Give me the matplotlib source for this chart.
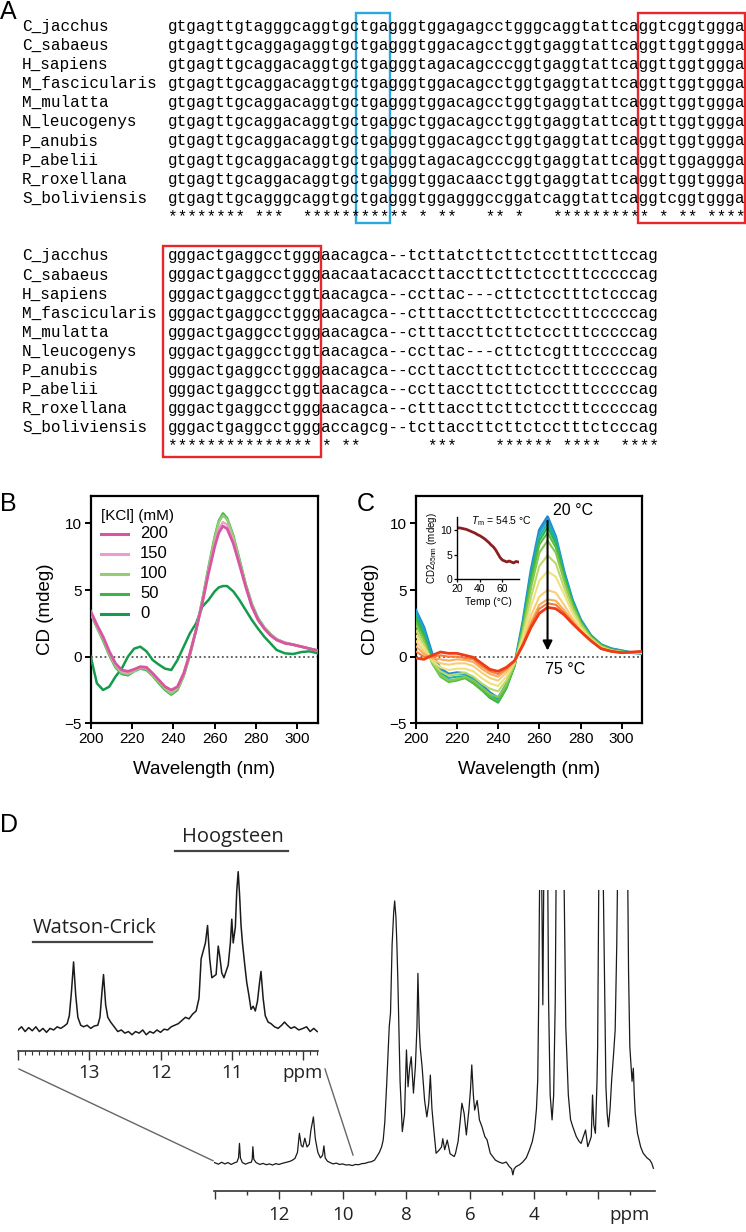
import numpy as np
import matplotlib.pyplot as plt
from matplotlib.patches import Rectangle

plt.rcParams['font.family'] = ['Liberation Sans', 'DejaVu Sans']
plt.rcParams['mathtext.fontset'] = 'custom'
plt.rcParams['mathtext.rm'] = 'Liberation Sans'
plt.rcParams['mathtext.it'] = 'Liberation Sans:italic'

W, H = 746, 1232

# ---------------- panel A: alignment ----------------
species = ['C_jacchus', 'C_sabaeus', 'H_sapiens', 'M_fascicularis', 'M_mulatta',
           'N_leucogenys', 'P_anubis', 'P_abelii', 'R_roxellana', 'S_boliviensis']
block1 = ['gtgagttgtagggcaggtgctgagggtggagagcctgggcaggtattcaggtcggtggga',
          'gtgagttgcaggagaggtgctgagggtggacagcctggtgaggtattcaggttggtggga',
          'gtgagttgcaggacaggtgctgagggtagacagcccggtgaggtattcaggttggtggga',
          'gtgagttgcaggacaggtgctgagggtggacagcctggtgaggtattcaggttggtggga',
          'gtgagttgcaggacaggtgctgagggtggacagcctggtgaggtattcaggttggtggga',
          'gtgagttgcaggacaggtgctgaggctggacagcctggtgaggtattcagtttggtggga',
          'gtgagttgcaggacaggtgctgagggtggacagcctggtgaggtattcaggttggtggga',
          'gtgagttgcaggacaggtgctgagggtagacagcccggtgaggtattcaggttggaggga',
          'gtgagttgcaggacaggtgctgagggtggacaacctggtgaggtattcaggttggtggga',
          'gtgagttgcagggcaggtgctgagggtggagggccggatcaggtattcaggtcggtggga']
stars1 = '******** ***  *********** * **   ** *   ********** * ** ****'
block2 = ['gggactgaggcctgggaacagca--tcttatcttcttctcctttcttccag',
          'gggactgaggcctgggaacaatacaccttaccttcttctcctttcccccag',
          'gggactgaggcctggtaacagca--ccttac---cttctcctttctcccag',
          'gggactgaggcctgggaacagca--ctttaccttcttctcctttcccccag',
          'gggactgaggcctgggaacagca--ctttaccttcttctcctttcccccag',
          'gggactgaggcctggtaacagca--ccttac---cttctcgtttcccccag',
          'gggactgaggcctgggaacagca--ccttaccttcttctcctttcccccag',
          'gggactgaggcctggtaacagca--ccttaccttcttctcctttcccccag',
          'gggactgaggcctgggaacagca--ctttaccttcttctcctttcccccag',
          'gggactgaggcctgggaccagcg--tcttaccttcttctcctttctcccag']
stars2 = '*************** * **       ***    ****** ****  ****'

# ---------------- panel B: CD vs [KCl] ----------------
wl_b = [200, 203, 206, 209, 212, 215, 218, 221, 224, 227, 230, 233, 236, 239, 242, 245,
        248, 251, 254, 257, 260, 262, 264, 266, 269, 272, 275, 278, 281, 284, 287, 290,
        294, 298, 302, 306, 310]
kcl_0 = [0.0, -2.0, -2.5, -2.25, -1.5, -0.9, 0.0, 0.6, 0.75, 0.4, -0.25, -0.6, -0.9, -1.0,
         -0.25, 0.75, 1.75, 2.5, 3.75, 4.25, 4.9, 5.2, 5.3, 5.3, 4.9, 4.25, 3.5, 2.75, 2.1,
         1.5, 1.0, 0.5, 0.25, 0.2, 0.35, 0.4, 0.25]
kcl_50 = [3.2, 2.2, 1.2, 0.1, -0.8, -1.3, -1.4, -1.1, -0.9, -1.0, -1.45, -2.0, -2.5, -2.85,
          -2.5, -1.45, 0.1, 2.0, 4.25, 6.7, 9.0, 10.2, 10.75, 10.4, 9.1, 7.3, 5.45, 3.95, 2.9,
          2.2, 1.7, 1.3, 1.05, 0.9, 0.75, 0.6, 0.45]
kcl_100 = [3.3, 2.2, 1.3, 0.2, -0.7, -1.2, -1.3, -1.1, -0.85, -0.9, -1.4, -1.9, -2.4, -2.75,
           -2.4, -1.4, 0.15, 2.0, 4.2, 6.6, 8.9, 10.1, 10.6, 10.3, 9.0, 7.2, 5.4, 3.9, 2.85,
           2.2, 1.7, 1.3, 1.05, 0.9, 0.75, 0.6, 0.45]
kcl_150 = [3.3, 2.3, 1.4, 0.3, -0.6, -1.1, -1.2, -1.0, -0.8, -0.85, -1.3, -1.8, -2.3, -2.6,
           -2.3, -1.3, 0.2, 2.0, 4.1, 6.4, 8.5, 9.6, 10.1, 9.9, 8.7, 7.0, 5.3, 3.8, 2.8,
           2.15, 1.65, 1.3, 1.05, 0.9, 0.75, 0.6, 0.45]
kcl_200 = [3.4, 2.4, 1.5, 0.4, -0.5, -1.0, -1.1, -0.95, -0.75, -0.8, -1.25, -1.75, -2.25,
           -2.5, -2.25, -1.25, 0.25, 2.0, 4.0, 6.25, 8.25, 9.3, 9.8, 9.6, 8.5, 6.9, 5.25,
           3.75, 2.75, 2.1, 1.6, 1.25, 1.0, 0.9, 0.75, 0.6, 0.45]
kcl_labels = ['200', '150', '100', '50', '0']
kcl_colors = ['#D8559F', '#EE9BCF', '#93CE76', '#3DB34A', '#169A4C']

# ---------------- panel C: CD vs temperature ----------------
wl_c = [200, 204, 208, 212, 216, 220, 224, 228, 232, 236, 240, 244, 248, 252, 256, 260,
        264, 268, 272, 276, 280, 285, 290, 295, 300, 305, 310]
t20 = [3.5, 2.2, 0.2, -0.9, -1.3, -1.2, -1.25, -1.6, -2.1, -2.7, -3.1, -2.1, -0.6, 2.6, 6.5, 9.5, 10.5, 9.0, 6.4, 4.3, 2.8, 1.6, 0.9, 0.6, 0.45, 0.3, 0.25]
t25 = [3.4, 2.0, 0.0, -1.0, -1.4, -1.3, -1.35, -1.7, -2.2, -2.8, -3.2, -2.2, -0.65, 2.5, 6.3, 9.3, 10.3, 8.9, 6.3, 4.25, 2.75, 1.6, 0.9, 0.6, 0.45, 0.3, 0.25]
t30 = [3.2, 1.8, -0.2, -1.2, -1.6, -1.5, -1.5, -1.9, -2.4, -3.0, -3.4, -2.3, -0.7, 2.4, 6.1, 9.0, 10.0, 8.7, 6.2, 4.2, 2.7, 1.55, 0.9, 0.55, 0.4, 0.3, 0.25]
t35 = [3.0, 1.6, -0.4, -1.4, -1.8, -1.7, -1.6, -2.0, -2.5, -3.1, -3.45, -2.4, -0.7, 2.3, 5.9, 8.7, 9.7, 8.5, 6.1, 4.1, 2.7, 1.55, 0.9, 0.55, 0.4, 0.3, 0.25]
t40 = [2.7, 1.4, -0.5, -1.5, -1.9, -1.8, -1.6, -2.0, -2.5, -3.0, -3.35, -2.3, -0.65, 2.2, 5.6, 8.4, 9.3, 8.2, 5.9, 4.0, 2.6, 1.5, 0.85, 0.5, 0.4, 0.3, 0.3]
t45 = [2.4, 1.2, -0.5, -1.4, -1.8, -1.7, -1.5, -1.8, -2.3, -2.8, -3.05, -2.1, -0.6, 2.0, 5.2, 7.8, 8.7, 7.8, 5.7, 3.85, 2.55, 1.45, 0.8, 0.5, 0.35, 0.3, 0.3]
t50 = [2.0, 0.9, -0.4, -1.1, -1.4, -1.3, -1.2, -1.5, -2.0, -2.4, -2.6, -1.8, -0.5, 1.7, 4.5, 6.8, 7.6, 7.0, 5.2, 3.6, 2.4, 1.4, 0.75, 0.45, 0.35, 0.3, 0.3]
t55 = [1.6, 0.7, -0.3, -0.8, -1.0, -0.9, -0.9, -1.1, -1.6, -2.0, -2.2, -1.5, -0.45, 1.4, 3.8, 5.7, 6.4, 6.0, 4.7, 3.3, 2.2, 1.3, 0.7, 0.45, 0.35, 0.3, 0.3]
t60 = [1.2, 0.4, -0.2, -0.5, -0.6, -0.5, -0.5, -0.7, -1.2, -1.6, -1.8, -1.2, -0.4, 1.1, 3.1, 4.5, 5.0, 4.8, 3.9, 2.9, 2.0, 1.2, 0.65, 0.4, 0.3, 0.3, 0.35]
t65 = [0.8, 0.2, -0.1, -0.2, -0.3, -0.2, -0.25, -0.4, -0.9, -1.3, -1.5, -1.0, -0.35, 0.95, 2.6, 3.9, 4.3, 4.2, 3.5, 2.7, 1.95, 1.2, 0.6, 0.4, 0.3, 0.3, 0.35]
t70 = [0.4, 0.0, 0.0, 0.1, 0.0, 0.0, -0.1, -0.2, -0.7, -1.1, -1.3, -0.9, -0.3, 0.9, 2.4, 3.6, 4.0, 3.9, 3.3, 2.6, 1.9, 1.2, 0.6, 0.4, 0.3, 0.3, 0.4]
t75 = [-0.1, -0.2, 0.1, 0.35, 0.25, 0.25, 0.1, -0.05, -0.5, -0.95, -1.1, -0.8, -0.3, 0.85, 2.2, 3.25, 3.7, 3.6, 3.15, 2.5, 1.9, 1.2, 0.6, 0.4, 0.3, 0.35, 0.4]
temp_colors = ['#2089D2', '#1AA4D3', '#1FB2A6', '#2DB350', '#56BC3D', '#86C84B',
               '#BBD966', '#EEE27E', '#F8CE74', '#F6AC5B', '#F37D3B', '#EE3A16']

melt_t = [20, 22, 24, 26, 28, 30, 32, 34, 36, 38, 40, 42, 44, 46, 48, 50, 52, 54, 56, 58,
          60, 62, 64, 66, 68, 70, 72, 74]
melt_cd = [10.5, 10.5, 10.4, 10.3, 10.2, 10.0, 9.8, 9.6, 9.4, 9.1, 8.9, 8.6, 8.3, 7.9, 7.5,
           7.0, 6.6, 6.0, 5.2, 4.4, 3.9, 3.7, 3.5, 3.7, 3.5, 3.3, 3.6, 3.5]

# ---------------- panel D: 1H NMR ----------------
ins_ppm = [14.00, 13.95, 13.90, 13.85, 13.80, 13.75, 13.70, 13.65, 13.60, 13.55, 13.50,
           13.45, 13.40, 13.35, 13.31, 13.28, 13.25, 13.22, 13.19, 13.16, 13.12, 13.08,
           13.03, 12.98, 12.93, 12.88, 12.85, 12.82, 12.80, 12.77, 12.74, 12.70, 12.65,
           12.60, 12.55, 12.50, 12.45, 12.40, 12.35, 12.30, 12.25, 12.20, 12.15, 12.10,
           12.05, 12.00, 11.95, 11.90, 11.85, 11.80, 11.75, 11.70, 11.65, 11.60, 11.55,
           11.50, 11.46, 11.43, 11.40, 11.37, 11.34, 11.31, 11.28, 11.25, 11.22, 11.19,
           11.17, 11.14, 11.11, 11.08, 11.05, 11.02, 11.00, 10.98, 10.95, 10.93, 10.91,
           10.89, 10.87, 10.85, 10.82, 10.79, 10.76, 10.73, 10.70, 10.67, 10.64, 10.61,
           10.59, 10.56, 10.53, 10.49, 10.45, 10.40, 10.35, 10.30, 10.26, 10.22, 10.17,
           10.12, 10.06, 10.00, 9.95, 9.90, 9.85, 9.80]
ins_int = [0.00, 0.02, -0.01, 0.015, -0.005, 0.02, -0.01, 0.01, -0.015, 0.01, 0.0,
           0.02, 0.01, 0.025, 0.04, 0.09, 0.24, 0.43, 0.22, 0.08, 0.03, 0.02,
           0.03, 0.01, 0.025, 0.03, 0.08, 0.25, 0.35, 0.16, 0.08, 0.05, 0.02,
           -0.01, 0.0, -0.02, -0.01, -0.03, -0.01, -0.02, 0.0, -0.03, -0.01, -0.02,
           0.0, -0.015, 0.005, 0.0, 0.02, 0.03, 0.04, 0.06, 0.08, 0.07, 0.1,
           0.12, 0.2, 0.45, 0.5, 0.55, 0.66, 0.45, 0.33, 0.34, 0.35, 0.53,
           0.47, 0.36, 0.33, 0.37, 0.41, 0.55, 0.70, 0.55, 0.65, 0.88, 1.00,
           0.85, 0.66, 0.55, 0.42, 0.30, 0.22, 0.13, 0.15, 0.12, 0.18, 0.30,
           0.37, 0.2, 0.09, 0.05, 0.04, 0.02, 0.01, 0.03, 0.05, 0.03, 0.01,
           0.02, 0.0, 0.01, 0.02, -0.01, 0.01, -0.01]

nmr_ppm = [14.03, 13.9, 13.8, 13.7, 13.6, 13.5, 13.4, 13.32, 13.27, 13.24, 13.21, 13.15,
           13.05, 12.95, 12.87, 12.84, 12.82, 12.79, 12.72, 12.6, 12.5, 12.4, 12.3, 12.2,
           12.1, 12.0, 11.9, 11.8, 11.7, 11.6, 11.5, 11.42, 11.36, 11.3, 11.25, 11.19,
           11.12, 11.05, 11.0, 10.92, 10.86, 10.78, 10.7, 10.63, 10.59, 10.55, 10.48, 10.4,
           10.3, 10.2, 10.1, 10.0, 9.9, 9.8, 9.7, 9.6, 9.5, 9.4, 9.3, 9.2, 9.1, 9.0, 8.94,
           8.85, 8.78, 8.73, 8.68, 8.62, 8.54, 8.50, 8.45, 8.40, 8.37, 8.33, 8.30, 8.27,
           8.20, 8.13, 8.06, 8.00, 7.95, 7.90, 7.85, 7.78, 7.72, 7.67, 7.64, 7.60, 7.57,
           7.51, 7.43, 7.36, 7.30, 7.25, 7.20, 7.15, 7.07, 6.97, 6.90, 6.86, 6.80, 6.72,
           6.63, 6.50, 6.46, 6.38, 6.32, 6.26, 6.19, 6.12, 6.04, 5.99, 5.95, 5.90, 5.86,
           5.78, 5.71, 5.63, 5.54, 5.47, 5.37, 5.21, 5.10, 4.98, 4.87, 4.77, 4.70, 4.66,
           4.62, 4.56, 4.45, 4.35, 4.24, 4.14, 4.05, 3.98, 3.92, 3.88, 3.85, 3.83, 3.80,
           3.76, 3.72, 3.68, 3.63, 3.58, 3.54, 3.49, 3.43, 3.38, 3.33, 3.30, 3.2, 3.1,
           3.05, 3.0, 2.92, 2.85, 2.78, 2.67, 2.58, 2.52, 2.45, 2.38, 2.31, 2.25, 2.20,
           2.16, 2.12, 2.07, 2.02, 2.00, 1.96, 1.91, 1.86, 1.82, 1.79, 1.74, 1.70, 1.66,
           1.61, 1.56, 1.50, 1.45, 1.40, 1.34, 1.25, 1.15, 1.06, 1.03, 0.99, 0.92, 0.88,
           0.85, 0.82, 0.75, 0.65, 0.57, 0.45, 0.36, 0.30, 0.25]
nmr_int = [0.3, -0.3, 0.4, -0.2, 0.3, -0.4, 0.2, 0.5, 2, 7.3, 2, 0.3,
           -0.3, 0.2, 0.4, 1.5, 6.1, 1.5, 0.3, -0.4, 0.0, -0.5, -0.2, -0.6,
           -0.1, -0.4, 0.0, 0.3, 0.6, 1.0, 1.8, 4, 11, 6.5, 6, 9.2,
           6, 7, 12, 17, 9, 4, 2, 3, 6.4, 2, 0.8, 0.3,
           -0.2, 0.1, -0.4, -0.2, -0.6, -0.5, -0.8, -0.4, -0.5, -0.1, 0.0, 0.4, 0.6, 1.2, 2.3,
           4, 6, 8.5, 15, 29, 50, 55, 80, 92, 96, 90, 80, 67,
           30, 11.6, 18, 41.5, 28, 35, 39, 25.7, 35.4, 50, 69.5, 50, 42.7,
           35.4, 23, 17, 22, 32.3, 20, 13.4, 3.7, 4.9, 6, 9, 5, 8.5,
           3.5, 2.5, 3.7, 8, 14.7, 22, 18.3, 10.4, 19.5, 27, 36, 25, 19.5,
           23, 15.9, 13.4, 9.8, 8.6, 3.7, 1.2, 0.5, 0, 0.5, -1.2, -2, -4.2,
           -2, -1.2, -0.5, 0.5, 2, 4.9, 8, 12.2, 20, 30.5, 60, 91, 130,
           110, 58, 120, 150, 130, 60, 25, 15.9, 25, 60, 110, 180, 150,
           100, 50, 25, 16, 13.4, 9.8, 8, 7.3, 9.8, 12.2, 6.1, 8, 9.8,
           25, 14, 11, 30, 42.7, 110, 200, 130, 100, 72, 28, 18, 13.4,
           20, 30.5, 40, 48.8, 80, 140, 200, 180, 110, 70, 42.7, 30, 34.8,
           25, 18.3, 11, 6, 3.7, 2, 1.2, 0, -1.8]


def rect(x0, y0, x1, y1):
    return [x0 / W, 1 - y1 / H, (x1 - x0) / W, (y1 - y0) / H]


fig = plt.figure(figsize=(W / 100, H / 100), dpi=100)


def style_cd(ax):
    ax.set_xlim(200, 310)
    ax.set_ylim(-5, 12.08)
    ax.set_xticks([200, 220, 240, 260, 280, 300])
    ax.set_yticks([-5, 0, 5, 10])
    for s in ax.spines.values():
        s.set_linewidth(1.6)
    ax.tick_params(direction='out', length=4, width=1.4, labelsize=11, pad=2.5)
    ax.axhline(0, color='#555555', lw=1.3, ls=(0, (1, 1.5)), zorder=1)
    ax.set_xlabel('Wavelength (nm)', fontsize=13.5)
    ax.set_ylabel('CD (mdeg)', fontsize=13.5)
    ax.xaxis.set_label_coords(0.5, -0.205)
    ax.xaxis.label.set_va('center')
    ax.yaxis.set_label_coords(-0.198, 0.5)
    ax.yaxis.label.set_va('center')
    ax.patch.set_alpha(0)


# ---- B ----
axB = fig.add_axes(rect(90.7, 495.7, 318, 723.3))
for vals, col, lw in zip([kcl_0, kcl_50, kcl_100, kcl_150, kcl_200],
                         kcl_colors[::-1], [1.8, 1.8, 1.8, 1.6, 2.0]):
    axB.plot(wl_b, vals, color=col, lw=lw, zorder=3)
style_cd(axB)

# ---- C ----
axC = fig.add_axes(rect(415.7, 495.7, 642.3, 723.3))
c_series = [t20, t25, t30, t35, t40, t45, t50, t55, t60, t65, t70, t75]
for i, (vals, col) in enumerate(zip(c_series, temp_colors)):
    axC.plot(wl_c, vals, color=col, lw=2.0 if i in (0, 11) else 1.5, zorder=3)
style_cd(axC)
axC.annotate('', xy=(264, 0.25), xytext=(264, 10.4),
             arrowprops=dict(arrowstyle='-|>', color='black', lw=1.5, mutation_scale=14),
             zorder=5)
axC.text(266.6, 11.0, '20 °C', fontsize=11.5, va='center', ha='left')
axC.text(262.7, -0.95, '75 °C', fontsize=11.5, va='center', ha='left')

axI = fig.add_axes(rect(457.3, 516.7, 518.7, 579))
axI.plot(melt_t, melt_cd, color='#8B1E22', lw=2)
axI.set_xlim(20, 74.5)
axI.set_ylim(0, 12.8)
axI.set_xticks([20, 40, 60])
axI.set_yticks([0, 5, 10])
axI.spines['top'].set_visible(False)
axI.spines['right'].set_visible(False)
for s in ('left', 'bottom'):
    axI.spines[s].set_linewidth(1.0)
axI.tick_params(direction='out', length=2.5, width=0.9, labelsize=7.5, pad=1.2)
axI.set_xlabel('Temp (°C)', fontsize=7.5, labelpad=2)
axI.set_ylabel(r'CD2$_{\mathregular{65nm}}$ (mdeg)', fontsize=7, labelpad=1)
axI.text(0.22, 0.93, r'$T_{\mathregular{m}}$ = 54.5 °C', transform=axI.transAxes,
         fontsize=7.5, va='center', ha='left')
axI.patch.set_alpha(0)

# ---- D: inset (exchangeable imino region) ----
axDi = fig.add_axes(rect(18, 860, 318, 1050.7))
axDi.plot(ins_ppm, ins_int, color='#1a1a1a', lw=1.1)
axDi.set_xlim(14.0, 9.79)
axDi.set_ylim(-0.131, 1.074)
for s in ('left', 'top', 'right'):
    axDi.spines[s].set_visible(False)
axDi.spines['bottom'].set_linewidth(1.2)
axDi.spines['bottom'].set_color('#333333')
axDi.set_yticks([])
axDi.set_xticks([14, 13, 12, 11, 10], labels=['', '13', '12', '11', 'ppm'])
axDi.set_xticks(np.arange(9.8, 14.0, 0.1), minor=True)
axDi.tick_params(axis='x', which='major', direction='out', length=6.5, width=1.0,
                 labelsize=13.5, pad=3, colors='#333333', labelcolor='#222222')
axDi.tick_params(axis='x', which='minor', direction='out', length=3, width=0.8,
                 colors='#333333')
for lab in axDi.get_xticklabels():
    lab.set_family('Open Sans')
axDi.patch.set_alpha(0)

# ---- D: full spectrum ----
axD = fig.add_axes(rect(214.3, 890, 655, 1190.7))
axD.plot(nmr_ppm, nmr_int, color='#1a1a1a', lw=0.9)
axD.set_xlim(14.03, 0.2)
axD.set_ylim(-10, 100)
for s in ('left', 'top', 'right'):
    axD.spines[s].set_visible(False)
axD.spines['bottom'].set_linewidth(1.2)
axD.spines['bottom'].set_color('#333333')
axD.set_yticks([])
axD.set_xticks([14, 12, 10, 8, 6, 4, 2], labels=['', '12', '10', '8', '6', '4', ''])
axD.set_xticks([13, 11, 9, 7, 5, 3, 1], labels=['', '', '', '', '', '', 'ppm'], minor=True)
axD.tick_params(axis='x', which='major', direction='out', length=6, width=1.0,
                labelsize=13.5, pad=5, colors='#333333', labelcolor='#222222')
axD.tick_params(axis='x', which='minor', direction='out', length=3, width=1.0,
                labelsize=13.5, pad=8, colors='#333333', labelcolor='#222222')
for lab in axD.get_xticklabels() + axD.get_xticklabels(minor=True):
    lab.set_family('Open Sans')
axD.patch.set_alpha(0)

# ---- overlay in pixel coordinates ----
ov = fig.add_axes([0, 0, 1, 1], zorder=10)
ov.set_xlim(0, W)
ov.set_ylim(H, 0)
ov.axis('off')
ov.patch.set_alpha(0)

mono = dict(family='Liberation Mono', fontsize=11.5, va='baseline', ha='left')
for i, (name, seq) in enumerate(zip(species, block1)):
    ov.text(22, 30.7 + 19.13 * i, name, **mono)
    ov.text(167.5, 30.7 + 19.13 * i, seq, **mono)
ov.text(167.5, 30.7 + 19.13 * 10, stars1, **mono)
for i, (name, seq) in enumerate(zip(species, block2)):
    ov.text(22, 260.3 + 19.1 * i, name, **mono)
    ov.text(167.5, 260.3 + 19.1 * i, seq, **mono)
ov.text(167.5, 260.3 + 19.1 * 10, stars2, **mono)

ov.add_patch(Rectangle((356, 12.7), 34, 210.3, fill=False, ec='#2AA7DE', lw=1.7))
ov.add_patch(Rectangle((637.7, 12.7), 107, 210.3, fill=False, ec='#E8262B', lw=1.7))
ov.add_patch(Rectangle((162.7, 245.7), 158, 211.6, fill=False, ec='#E8262B', lw=1.7))

# B legend
ov.text(101, 516, '[KCl] (mM)', fontsize=11, va='center', ha='left')
for i, (lab, col) in enumerate(zip(kcl_labels, kcl_colors)):
    y = 534 + 20 * i
    ov.plot([101, 128], [y, y], color=col, lw=2.2)
    ov.text(140, y, lab, fontsize=12, va='center', ha='left')

# panel letters
for letter, x, y in [('A', 0, 12), ('B', 0, 504), ('C', 357, 504), ('D', 0, 825)]:
    ov.text(x, y, letter, fontsize=18, va='center', ha='left')

# D annotations
ov.text(232.5, 837, 'Hoogsteen', family='Open Sans', fontsize=14.5, va='center', ha='center',
        color='#222222')
ov.plot([175, 288], [850.7, 850.7], color='#444444', lw=1.6)
ov.text(94.7, 928, 'Watson-Crick', family='Open Sans', fontsize=14.5, va='center',
        ha='center', color='#222222')
ov.plot([33, 152], [942, 942], color='#444444', lw=1.6)
ov.plot([19, 213], [1069, 1160.7], color='#666666', lw=1.0)
ov.plot([325, 353], [1069, 1155], color='#666666', lw=1.0)

fig.savefig('out.png', dpi=100)
